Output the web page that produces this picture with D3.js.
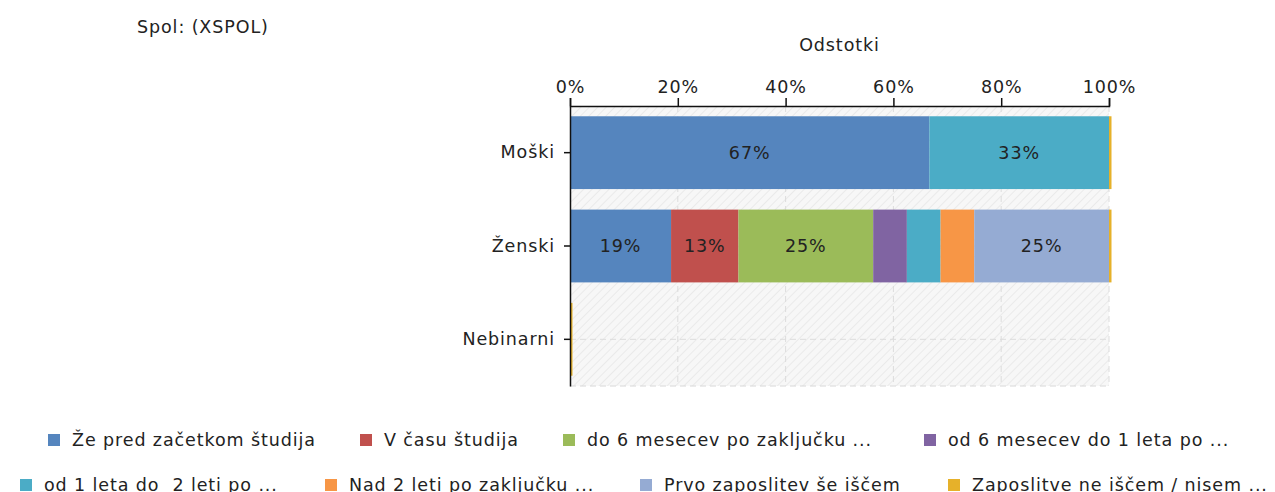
<!DOCTYPE html>
<html>
<head>
<meta charset="utf-8">
<script src="https://cdn.jsdelivr.net/npm/d3@7"></script>
<style>
  body { margin: 0; background: #fff; }
  svg text { font-family: "DejaVu Sans", Verdana, sans-serif; fill: #222; letter-spacing: 0.9px; white-space: pre; }
</style>
</head>
<body>
<svg id="chart" width="1275" height="492"></svg>
<script>
// categories (rows) and series (stack parts)
var categories = ["Moški", "Ženski", "Nebinarni"];
var seriesNames = ["Že pred začetkom študija", "V času študija", "do 6 mesecev po zaključku ...",
    "od 6 mesecev do 1 leta po ...", "od 1 leta do  2 leti po ...", "Nad 2 leti po zaključku ...",
    "Prvo zaposlitev še iščem", "Zaposlitve ne iščem / nisem ..."];
var seriesColors = ["#5585be", "#c0504d", "#9bbb59", "#8064a2", "#4bacc6", "#f79646", "#95abd3", "#e6b12a"];

// percentages per series, one value for each category
var vZePred = [66.67, 18.75, 0];
var vVCasu = [0, 12.5, 0];
var vDo6 = [0, 25, 0];
var vOd6 = [0, 6.25, 0];
var vOd1 = [33.33, 6.25, 0];
var vNad2 = [0, 6.25, 0];
var vPrvo = [0, 25, 0];
var vNeIscem = [0, 0, 0];

var tickValues = [0, 20, 40, 60, 80, 100];

var allValues = [vZePred, vVCasu, vDo6, vOd6, vOd1, vNad2, vPrvo, vNeIscem];
var rows = categories.map(function (c, i) {
    var r = { cat: c };
    seriesNames.forEach(function (s, j) { r[s] = allValues[j][i]; });
    return r;
});

var svg = d3.select("#chart");
var margin = { left: 570, top: 106, right: 1109, bottom: 386 };

var x = d3.scaleLinear().domain([0, 100]).range([margin.left, margin.right]);
var y = d3.scaleBand().domain(categories).range([margin.top, margin.bottom]).paddingInner(0.22).paddingOuter(0.11);

// hatched background
var defs = svg.append("defs");
var pat = defs.append("pattern").attr("id", "hatch").attr("patternUnits", "userSpaceOnUse")
    .attr("width", 6).attr("height", 6).attr("patternTransform", "rotate(45)");
pat.append("rect").attr("width", 6).attr("height", 6).attr("fill", "#f7f7f7");
pat.append("line").attr("x1", 0).attr("y1", 0).attr("x2", 0).attr("y2", 6)
    .attr("stroke", "#e6e6e6").attr("stroke-width", 1.5);

svg.append("rect")
    .attr("x", margin.left).attr("y", margin.top)
    .attr("width", margin.right - margin.left).attr("height", margin.bottom - margin.top)
    .attr("fill", "url(#hatch)");

// grid lines
svg.append("g").selectAll("line.v").data(tickValues.slice(1)).enter().append("line")
    .attr("x1", function (d) { return x(d); }).attr("x2", function (d) { return x(d); })
    .attr("y1", margin.top).attr("y2", margin.bottom)
    .attr("stroke", "#dcdcdc").attr("stroke-dasharray", "6,4");
svg.append("g").selectAll("line.h").data(categories).enter().append("line")
    .attr("x1", margin.left).attr("x2", margin.right)
    .attr("y1", function (d) { return y(d) + y.bandwidth() / 2; })
    .attr("y2", function (d) { return y(d) + y.bandwidth() / 2; })
    .attr("stroke", "#dcdcdc").attr("stroke-dasharray", "6,4");
svg.append("line")
    .attr("x1", margin.left).attr("x2", margin.right)
    .attr("y1", margin.bottom).attr("y2", margin.bottom)
    .attr("stroke", "#d8d8d8").attr("stroke-dasharray", "6,4");

// stacked bars
var stack = d3.stack().keys(seriesNames);
var layers = stack(rows);

var g = svg.append("g").selectAll("g").data(layers).enter().append("g")
    .attr("fill", function (d, i) { return seriesColors[i]; });

g.selectAll("rect").data(function (d) { return d; }).enter().append("rect")
    .attr("x", function (d) { return x(d[0]); })
    .attr("y", function (d) { return y(d.data.cat); })
    .attr("height", y.bandwidth())
    .attr("width", function (d) {
        var w = x(d[1]) - x(d[0]);
        // the last series is still shown as a thin line when empty
        if (this.parentNode.__data__.index == seriesNames.length - 1) return Math.max(w, 2.5);
        return w;
    });

// value labels on larger parts
g.selectAll("text").data(function (d) { return d.filter(function (p) { return p[1] - p[0] >= 10; }); })
    .enter().append("text")
    .attr("x", function (d) { return (x(d[0]) + x(d[1])) / 2; })
    .attr("y", function (d) { return y(d.data.cat) + y.bandwidth() / 2; })
    .attr("dy", "0.35em")
    .attr("text-anchor", "middle")
    .style("font-size", "17.5px")
    .text(function (d) { return Math.round(d[1] - d[0]) + "%"; });

// top axis
var xAxis = svg.append("g")
    .attr("transform", "translate(0," + margin.top + ")")
    .call(d3.axisTop(x).tickValues(tickValues).tickFormat(function (d) { return d + "%"; }).tickSize(8).tickPadding(5));
xAxis.selectAll("text").style("font-size", "17.5px");
xAxis.selectAll("line,path").attr("stroke", "#111").attr("stroke-width", 1.5);

// left axis
var yAxis = svg.append("g")
    .attr("transform", "translate(" + margin.left + ",0)")
    .call(d3.axisLeft(y).tickSize(6).tickPadding(9).tickSizeOuter(0));
yAxis.selectAll("text").style("font-size", "17.5px");
yAxis.selectAll("line,path").attr("stroke", "#111").attr("stroke-width", 1.5);

// titles
svg.append("text").attr("x", (margin.left + margin.right) / 2).attr("y", 51)
    .attr("text-anchor", "middle").style("font-size", "17.5px").text("Odstotki");
svg.append("text").attr("x", 137).attr("y", 33).style("font-size", "17.5px").text("Spol: (XSPOL)");

// legend
var legendPos = [[48, 440], [360, 440], [563, 440], [924, 440], [20, 485], [325, 485], [640, 485], [948, 485]];
var legend = svg.append("g").selectAll("g").data(seriesNames).enter().append("g")
    .attr("transform", function (d, i) { return "translate(" + legendPos[i][0] + "," + legendPos[i][1] + ")"; });
legend.append("rect").attr("x", 0).attr("y", -6).attr("width", 12).attr("height", 12)
    .attr("fill", function (d, i) { return seriesColors[i]; });
legend.append("text").attr("x", 24).attr("dy", "0.35em").style("font-size", "17.5px")
    .text(function (d) { return d; });
</script>
</body>
</html>
